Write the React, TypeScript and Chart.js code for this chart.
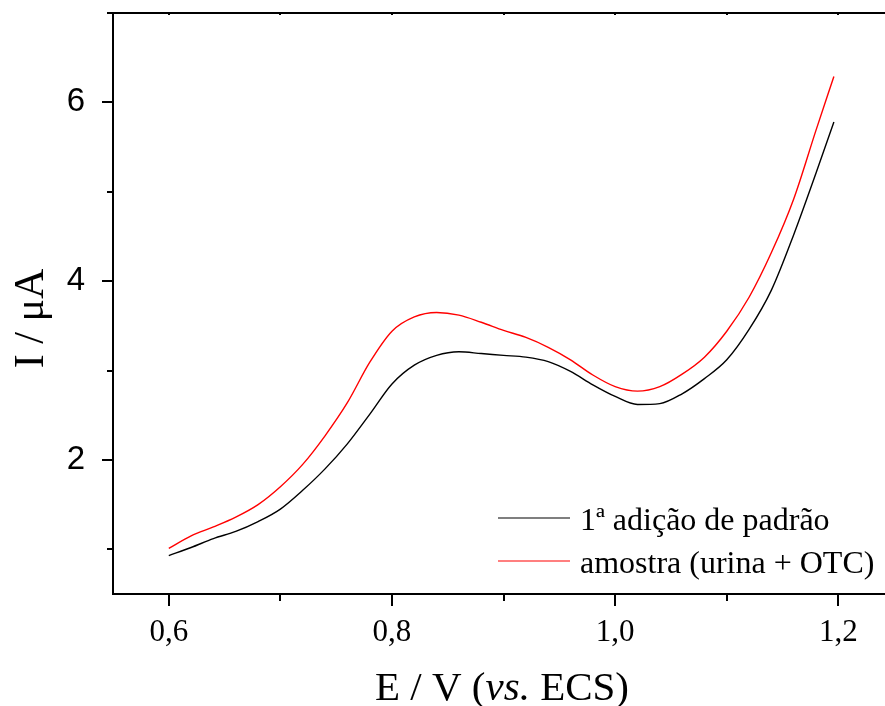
import React, { useEffect, useRef } from 'react';
import { Chart, registerables } from 'chart.js';

Chart.register(...registerables);

// Potential E / V (vs. ECS)
const potentials = [0.60, 0.62, 0.64, 0.66, 0.68, 0.70, 0.72, 0.74, 0.76, 0.78, 0.80, 0.82, 0.84, 0.86, 0.88, 0.90, 0.92, 0.94, 0.96, 0.98, 1.00, 1.02, 1.04, 1.06, 1.08, 1.10, 1.12, 1.14, 1.16, 1.18, 1.196];
// Current I / µA — 1ª adição de padrão (black)
const padraoCurrent = [0.93, 1.02, 1.12, 1.20, 1.31, 1.45, 1.66, 1.90, 2.18, 2.51, 2.85, 3.06, 3.17, 3.21, 3.19, 3.17, 3.15, 3.10, 2.99, 2.84, 2.71, 2.62, 2.63, 2.74, 2.91, 3.12, 3.46, 3.90, 4.52, 5.21, 5.78];
// Current I / µA — amostra (urina + OTC) (red)
const amostraCurrent = [1.01, 1.15, 1.25, 1.36, 1.50, 1.70, 1.95, 2.27, 2.64, 3.09, 3.44, 3.60, 3.65, 3.62, 3.54, 3.45, 3.37, 3.26, 3.12, 2.95, 2.82, 2.77, 2.82, 2.96, 3.15, 3.44, 3.82, 4.32, 4.92, 5.69, 6.29];

const seriesLabels = ['1ª adição de padrão', 'amostra (urina + OTC)'];
const xMajorTicks = [0.6, 0.8, 1.0, 1.2];
const xMinorTicks = [0.7, 0.9, 1.1];
const yMajorTicks = [2, 4, 6];
const yMinorTicks = [1, 3, 5, 7];
const xRange = [0.55, 1.2418];
const yRange = [0.5, 7];

const SERIF = '"Liberation Serif", "DejaVu Serif", serif';
const SANS = '"Liberation Sans", Arial, sans-serif';

const framePlugin = {
  id: 'frameDecor',
  afterDraw(chart: any) {
    const { ctx, chartArea: a, scales } = chart;
    const xs = scales.x;
    const ys = scales.y;
    ctx.save();
    ctx.strokeStyle = '#000';
    ctx.fillStyle = '#000';
    ctx.lineWidth = 2;
    const seg = (x1: number, y1: number, x2: number, y2: number) => {
      ctx.beginPath();
      ctx.moveTo(x1, y1);
      ctx.lineTo(x2, y2);
      ctx.stroke();
    };
    // top frame line
    seg(a.left - 1, a.top, a.right, a.top);
    // x ticks (bottom, outward) and small marks on top
    xMajorTicks.forEach((v) => {
      const p = Math.round(xs.getPixelForValue(v));
      seg(p, a.bottom, p, a.bottom + 12);
      seg(p, a.top, p, a.top + 2);
    });
    xMinorTicks.forEach((v) => {
      const p = Math.round(xs.getPixelForValue(v));
      seg(p, a.bottom, p, a.bottom + 7);
      seg(p, a.top, p, a.top + 2);
    });
    // y ticks (left, outward)
    yMajorTicks.forEach((v) => {
      const p = Math.round(ys.getPixelForValue(v));
      seg(a.left - 11, p, a.left, p);
    });
    yMinorTicks.forEach((v) => {
      const p = Math.round(ys.getPixelForValue(v));
      seg(a.left - 6, p, a.left, p);
    });

    // x axis title with italic "vs."
    const parts = [
      { t: 'E / V (', f: `41px ${SERIF}` },
      { t: 'vs.', f: `italic 41px ${SERIF}` },
      { t: ' ECS)', f: `41px ${SERIF}` },
    ];
    let total = 0;
    parts.forEach((p) => {
      ctx.font = p.f;
      total += ctx.measureText(p.t).width;
    });
    let cx = (a.left + a.right) / 2 + 3 - total / 2;
    const by = a.bottom + 106;
    ctx.textAlign = 'left';
    ctx.textBaseline = 'alphabetic';
    parts.forEach((p) => {
      ctx.font = p.f;
      ctx.fillText(p.t, cx, by);
      cx += ctx.measureText(p.t).width;
    });

    // y axis title
    ctx.save();
    ctx.translate(a.left - 70, (a.top + a.bottom) / 2 + 15);
    ctx.rotate(-Math.PI / 2);
    ctx.font = `42px ${SERIF}`;
    ctx.textAlign = 'center';
    ctx.textBaseline = 'alphabetic';
    ctx.fillText('I / μA', 0, 0);
    ctx.restore();

    // legend
    const lx = a.right - 387;
    const rows = [a.bottom - 76, a.bottom - 33];
    chart.data.datasets.forEach((ds: any, i: number) => {
      const ry = rows[i];
      ctx.strokeStyle = ds.borderColor;
      ctx.lineWidth = 1.2;
      seg(lx, ry, lx + 72, ry);
      ctx.font = `32px ${SERIF}`;
      ctx.fillStyle = '#000';
      ctx.textAlign = 'left';
      ctx.fillText(ds.label, lx + 82, ry + 12);
    });
    ctx.restore();
  },
};

export default function App() {
  const canvasRef = useRef<HTMLCanvasElement | null>(null);

  useEffect(() => {
    const canvas = canvasRef.current;
    if (!canvas) return;
    const chart = new Chart(canvas, {
      type: 'line',
      data: {
        datasets: [
          {
            label: seriesLabels[0],
            data: potentials.map((e, i) => ({ x: e, y: padraoCurrent[i] })),
            borderColor: '#000000',
            borderWidth: 1.4,
            pointRadius: 0,
            cubicInterpolationMode: 'monotone',
            fill: false,
          },
          {
            label: seriesLabels[1],
            data: potentials.map((e, i) => ({ x: e, y: amostraCurrent[i] })),
            borderColor: '#ff0000',
            borderWidth: 1.4,
            pointRadius: 0,
            cubicInterpolationMode: 'monotone',
            fill: false,
          },
        ],
      },
      options: {
        responsive: false,
        animation: false,
        devicePixelRatio: 1,
        layout: { padding: { left: 0, right: 0, top: 13, bottom: 0 } },
        plugins: {
          legend: { display: false },
          tooltip: { enabled: false },
          title: { display: false },
        },
        scales: {
          x: {
            type: 'linear',
            min: xRange[0],
            max: xRange[1],
            grid: { display: false },
            border: { display: true, color: '#000', width: 2 },
            afterBuildTicks: (scale: any) => {
              scale.ticks = xMajorTicks.map((v) => ({ value: v }));
            },
            afterFit: (scale: any) => {
              scale.height = 112;
              scale.paddingLeft = 0;
              scale.paddingRight = 0;
            },
            ticks: {
              color: '#000',
              padding: 12,
              maxRotation: 0,
              autoSkip: false,
              font: { family: SERIF, size: 31 },
              callback: (v: any) => Number(v).toFixed(1).replace('.', ','),
            },
          },
          y: {
            type: 'linear',
            min: yRange[0],
            max: yRange[1],
            grid: { display: false },
            border: { display: true, color: '#000', width: 2 },
            afterBuildTicks: (scale: any) => {
              scale.ticks = yMajorTicks.map((v) => ({ value: v }));
            },
            afterFit: (scale: any) => {
              scale.width = 113;
              scale.paddingTop = 0;
              scale.paddingBottom = 0;
            },
            ticks: {
              color: '#000',
              padding: 20,
              autoSkip: false,
              font: { family: SANS, size: 33 },
              callback: (v: any) => String(v),
            },
          },
        },
      },
      plugins: [framePlugin],
    } as any);
    return () => chart.destroy();
  }, []);

  return (
    <div style={{ position: 'fixed', left: 0, top: 0, width: 885, height: 706, background: '#fff' }}>
      <canvas ref={canvasRef} width={885} height={706} style={{ display: 'block' }} />
    </div>
  );
}
